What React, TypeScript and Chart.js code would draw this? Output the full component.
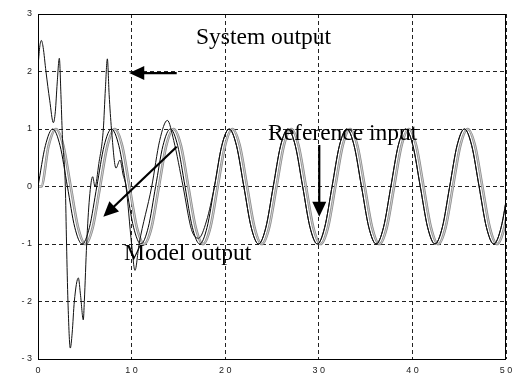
import React, { useEffect, useRef } from "react";
import { Chart, registerables } from "chart.js";

Chart.register(...registerables);

// Tabulated waves: one sample every pi/4 s
const WAVE_STEP = 0.7854;
const REFERENCE_VALUES = [
  0, 0.71, 1, 0.71, 0, -0.71, -1, -0.71,
  0, 0.71, 1, 0.71, 0, -0.71, -1, -0.71,
  0, 0.71, 1, 0.71, 0, -0.71, -1, -0.71,
  0, 0.71, 1, 0.71, 0, -0.71, -1, -0.71,
  0, 0.71, 1, 0.71, 0, -0.71, -1, -0.71,
  0, 0.71, 1, 0.71, 0, -0.71, -1, -0.71,
  0, 0.71, 1, 0.71, 0, -0.71, -1, -0.71,
  0, 0.71, 1, 0.71, 0, -0.71, -1, -0.71,
  0,
];
// Model output lags the reference by a small delay
const MODEL_DELAY = 0.35;
const MODEL_VALUES = [
  0, 0.71, 1, 0.71, 0, -0.71, -1, -0.71,
  0, 0.71, 1, 0.71, 0, -0.71, -1, -0.71,
  0, 0.71, 1, 0.71, 0, -0.71, -1, -0.71,
  0, 0.71, 1, 0.71, 0, -0.71, -1, -0.71,
  0, 0.71, 1, 0.71, 0, -0.71, -1, -0.71,
  0, 0.71, 1, 0.71, 0, -0.71, -1, -0.71,
  0, 0.71, 1, 0.71, 0, -0.71, -1, -0.71,
  0, 0.71, 1, 0.71, 0, -0.71, -1, -0.71,
  0,
];

// System output during the adaptation transient
const SYSTEM_TIME = [
  0, 0.18, 0.36, 0.55, 0.85, 1.25, 1.64, 1.85, 2.05, 2.28, 2.45, 2.6, 2.92,
  3.05, 3.2, 3.45, 3.65, 3.88, 4.31, 4.55, 4.84, 4.95, 5.2, 5.5, 5.84, 6.09,
  6.5, 6.98, 7.2, 7.41, 7.6, 7.85, 8.33, 8.76, 9.1, 9.4, 10.0, 10.36, 10.8,
  12.15, 13.0, 13.82, 14.5, 15.5, 16.4, 17.15, 18.0, 18.85,
];
const SYSTEM_VALUES = [
  2.08, 2.42, 2.54, 2.42, 2.0, 1.5, 1.11, 1.3, 1.8, 2.23, 1.6, 0.9, 0.0,
  -1.0, -2.0, -2.81, -2.55, -2.0, -1.59, -1.9, -2.32, -2.0, -1.0, -0.2, 0.17, 0.0,
  0.4, 1.0, 1.7, 2.22, 1.6, 1.0, 0.32, 0.46, 0.2, 0.0, -1.0, -1.46, -1.0,
  0.0, 0.8, 1.15, 0.8, 0.0, -0.75, -0.9, -0.6, 0.0,
];
// After the transient the system output tracks the reference input
const SYSTEM_TRACKING_FROM = 19.0;

const X_TICK_LABELS = ["0", "1 0", "2 0", "3 0", "4 0", "5 0"];
const Y_TICK_LABELS = ["- 3", "- 2", "- 1", "0", "1", "2", "3"];

// Callouts: [text, t, value]
const NOTES: [string, number, number][] = [
  ["System output", 16.88, 2.473],
  ["Reference input", 24.57, 0.809],
  ["Model output", 9.19, -1.278],
];
// Arrows: [tail t, tail value, tip t, tip value]
const ARROWS: [number, number, number, number][] = [
  [14.82, 1.972, 9.75, 1.972],
  [14.82, 0.692, 6.98, -0.525],
  [30.05, 0.722, 30.05, -0.525],
];

const referencePoints = REFERENCE_VALUES.map((v, i) => ({ x: i * WAVE_STEP, y: v }));
const modelPoints = [{ x: 0, y: 0 }].concat(
  MODEL_VALUES.map((v, i) => ({ x: MODEL_DELAY + i * WAVE_STEP, y: v }))
);
const systemPoints = SYSTEM_TIME.map((t, i) => ({ x: t, y: SYSTEM_VALUES[i] })).concat(
  referencePoints.filter((p) => p.x > SYSTEM_TRACKING_FROM)
);

const frameAndNotes = {
  id: "frameAndNotes",
  afterDatasetsDraw(chart: any) {
    const { ctx, chartArea, scales } = chart;
    const xs = scales.x;
    const ys = scales.y;
    ctx.save();
    ctx.setLineDash([]);
    ctx.strokeStyle = "#000";
    ctx.lineWidth = 1;
    ctx.strokeRect(
      Math.round(chartArea.left) + 0.5,
      Math.round(chartArea.top) + 0.5,
      Math.round(chartArea.right - chartArea.left) - 1,
      Math.round(chartArea.bottom - chartArea.top)
    );

    ctx.fillStyle = "#000";
    ctx.font = '23.5px "Liberation Serif", "Times New Roman", serif';
    ctx.textBaseline = "alphabetic";
    ctx.textAlign = "left";
    for (const [text, t, v] of NOTES) {
      ctx.fillText(text, xs.getPixelForValue(t), ys.getPixelForValue(v));
    }

    for (const [t0, v0, t1, v1] of ARROWS) {
      const x0 = xs.getPixelForValue(t0);
      const y0 = ys.getPixelForValue(v0);
      const x1 = xs.getPixelForValue(t1);
      const y1 = ys.getPixelForValue(v1);
      const len = Math.hypot(x1 - x0, y1 - y0);
      const ux = (x1 - x0) / len;
      const uy = (y1 - y0) / len;
      const headLen = 15;
      const headHalf = 7;
      const bx = x1 - ux * headLen;
      const by = y1 - uy * headLen;
      ctx.lineWidth = 2.2;
      ctx.beginPath();
      ctx.moveTo(x0, y0);
      ctx.lineTo(bx + ux * 2, by + uy * 2);
      ctx.stroke();
      ctx.beginPath();
      ctx.moveTo(x1, y1);
      ctx.lineTo(bx - uy * headHalf, by + ux * headHalf);
      ctx.lineTo(bx + uy * headHalf, by - ux * headHalf);
      ctx.closePath();
      ctx.fill();
    }
    ctx.restore();
  },
};

export default function App() {
  const canvasRef = useRef<HTMLCanvasElement | null>(null);

  useEffect(() => {
    const canvas = canvasRef.current;
    if (!canvas) return;
    const tickFont = { family: '"Liberation Sans", Arial, sans-serif', size: 9 };
    const chart = new Chart(canvas, {
      type: "line",
      data: {
        datasets: [
          {
            label: "System output",
            data: systemPoints,
            borderColor: "#111",
            borderWidth: 1,
            pointRadius: 0,
            cubicInterpolationMode: "monotone",
          },
          {
            label: "Reference input",
            data: referencePoints,
            borderColor: "#000",
            borderWidth: 1,
            pointRadius: 0,
            cubicInterpolationMode: "monotone",
          },
          {
            label: "Model output core",
            data: modelPoints,
            borderColor: "#e4e4e4",
            borderWidth: 0.8,
            pointRadius: 0,
            cubicInterpolationMode: "monotone",
          },
          {
            label: "Model output",
            data: modelPoints,
            borderColor: "#8c8c8c",
            borderWidth: 2.6,
            pointRadius: 0,
            cubicInterpolationMode: "monotone",
          },
        ],
      },
      options: {
        animation: false,
        responsive: true,
        maintainAspectRatio: false,
        layout: { padding: { left: 0, top: 14, right: 6, bottom: 0 } },
        plugins: {
          legend: { display: false },
          tooltip: { enabled: false },
        },
        scales: {
          x: {
            type: "linear",
            min: 0,
            max: 50,
            afterFit: (scale: any) => {
              scale.height = 14;
              scale.paddingLeft = 0;
              scale.paddingRight = 0;
            },
            ticks: {
              stepSize: 10,
              padding: 6,
              color: "#222",
              font: tickFont,
              maxRotation: 0,
              callback: (v: any) => X_TICK_LABELS[Math.round(Number(v) / 10)] ?? "",
            },
            grid: { color: "#222", lineWidth: 1, drawTicks: false },
            border: { display: false, dash: [4, 3] },
          },
          y: {
            type: "linear",
            min: -3,
            max: 3,
            afterFit: (scale: any) => {
              scale.width = 38;
              scale.paddingTop = 0;
              scale.paddingBottom = 0;
            },
            ticks: {
              stepSize: 1,
              padding: 6,
              color: "#222",
              font: tickFont,
              callback: (v: any) => Y_TICK_LABELS[Math.round(Number(v)) + 3] ?? "",
            },
            grid: { color: "#222", lineWidth: 1, drawTicks: false },
            border: { display: false, dash: [4, 3] },
          },
        },
      },
      plugins: [frameAndNotes],
    });
    return () => chart.destroy();
  }, []);

  return (
    <div style={{ position: "absolute", left: 0, top: 0, width: 512, height: 373, background: "#fff" }}>
      <canvas ref={canvasRef} />
    </div>
  );
}
